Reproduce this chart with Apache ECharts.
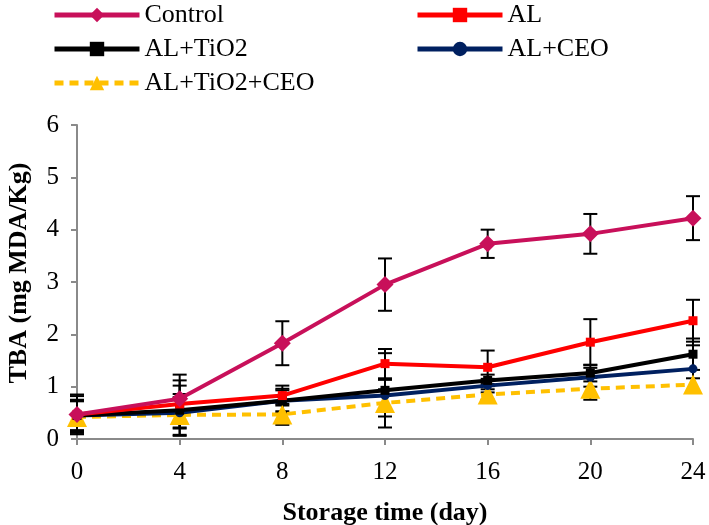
<!DOCTYPE html>
<html><head><meta charset="utf-8">
<script src="https://cdn.jsdelivr.net/npm/echarts@6/dist/echarts.min.js"></script>
<style>html,body{margin:0;padding:0;background:#fff}#c{width:709px;height:525px}</style>
</head><body><div id="c"></div>
<script>
var days = [0, 4, 8, 12, 16, 20, 24];
var yTicks = [0, 1, 2, 3, 4, 5, 6];
var seriesNames = ['Control', 'AL', 'AL+TiO2', 'AL+CEO', 'AL+TiO2+CEO'];
var control = [0.47, 0.77, 1.83, 2.95, 3.73, 3.92, 4.22];
var controlErr = [0.38, 0.46, 0.42, 0.5, 0.27, 0.38, 0.42];
var al = [0.47, 0.67, 0.83, 1.44, 1.37, 1.85, 2.26];
var alErr = [0.35, 0.45, 0.19, 0.28, 0.32, 0.44, 0.4];
var alTiO2 = [0.45, 0.55, 0.73, 0.93, 1.12, 1.26, 1.62];
var alTiO2Err = [0.3, 0.47, 0.23, 0.71, 0.11, 0.16, 0.3];
var alCeo = [0.45, 0.5, 0.73, 0.83, 1.02, 1.18, 1.34];
var alCeoErr = [0.28, 0.3, 0.2, 0.3, 0.13, 0.18, 0.45];
var alTiO2Ceo = [0.42, 0.46, 0.47, 0.69, 0.85, 0.96, 1.04];
var alTiO2CeoErr = [0.3, 0.4, 0.2, 0.26, 0.1, 0.21, 0.12];

var F = 'Liberation Serif, Times New Roman, serif';
var chart = echarts.init(document.getElementById('c'));

function pairs(v){ return days.map(function(d,i){ return [d, v[i]]; }); }
function errSeries(v, e){
  return {
    type: 'custom', silent: true, z: 1,
    data: days.map(function(d,i){ return [d, v[i]-e[i], v[i]+e[i]]; }),
    renderItem: function(params, api){
      var lo = api.coord([api.value(0), api.value(1)]);
      var hi = api.coord([api.value(0), api.value(2)]);
      var w = 7;
      var st = {stroke:'#000', lineWidth:2};
      return {type:'group', children:[
        {type:'line', shape:{x1:lo[0],y1:lo[1],x2:hi[0],y2:hi[1]}, style:st},
        {type:'line', shape:{x1:lo[0]-w,y1:lo[1],x2:lo[0]+w,y2:lo[1]}, style:st},
        {type:'line', shape:{x1:hi[0]-w,y1:hi[1],x2:hi[0]+w,y2:hi[1]}, style:st}
      ]};
    }
  };
}
function lineSeries(name, v, color, symbol, size, dashed){
  return {
    name: name, type: 'line', z: 3, data: pairs(v),
    symbol: symbol, symbolSize: size, showSymbol: true,
    lineStyle: {color: color, width: 4, type: dashed ? [9, 6] : 'solid'},
    itemStyle: {color: color},
    emphasis: {disabled: true}
  };
}
var legendCommon = {
  orient: 'vertical', top: 2, padding: 0, itemWidth: 85, itemHeight: 18, itemGap: 8,
  lineStyle: {width: 5, inactiveWidth: 5},
  textStyle: {fontFamily: F, fontSize: 26, color: '#000', lineHeight: 20, padding: [0,0,0,0]}
};

chart.setOption({
  animation: false,
  grid: {left: 77, right: 16, top: 125, bottom: 86, outerBoundsMode: 'none', containLabel: false},
  legend: [
    Object.assign({left: 52, data: ['Control', 'AL+TiO2', 'AL+TiO2+CEO']}, legendCommon),
    Object.assign({left: 415, data: ['AL', 'AL+CEO']}, legendCommon)
  ],
  xAxis: {
    type: 'value', min: 0, max: 24, interval: 4,
    name: 'Storage time (day)', nameLocation: 'middle', nameGap: 61,
    nameTextStyle: {fontFamily: F, fontSize: 26, fontWeight: 'bold', color: '#000'},
    axisLine: {lineStyle: {color: '#8a8a8a', width: 2}},
    axisTick: {show: true, length: 6, lineStyle: {color: '#8a8a8a', width: 2}},
    splitLine: {show: false},
    axisLabel: {fontFamily: F, fontSize: 25, color: '#000', margin: 21,
      formatter: function(v){ return days.indexOf(v) >= 0 ? String(v) : ''; }}
  },
  yAxis: {
    type: 'value', min: 0, max: 6, interval: 1,
    name: 'TBA (mg MDA/Kg)', nameLocation: 'middle', nameGap: 45, nameRotate: 90,
    nameTextStyle: {fontFamily: F, fontSize: 26, fontWeight: 'bold', color: '#000', padding:[0,0,0,18]},
    axisLine: {show: true, lineStyle: {color: '#8a8a8a', width: 2}},
    axisTick: {show: true, length: 6, lineStyle: {color: '#8a8a8a', width: 2}},
    splitLine: {show: false},
    axisLabel: {fontFamily: F, fontSize: 25, color: '#000', margin: 18,
      formatter: function(v){ return yTicks.indexOf(v) >= 0 ? String(v) : ''; }}
  },
  series: [
    errSeries(control, controlErr),
    errSeries(al, alErr),
    errSeries(alTiO2, alTiO2Err),
    errSeries(alCeo, alCeoErr),
    errSeries(alTiO2Ceo, alTiO2CeoErr),
    lineSeries(seriesNames[4], alTiO2Ceo, '#FFC000', 'triangle', 20, true),
    lineSeries(seriesNames[3], alCeo, '#002060', 'circle', 9, false),
    lineSeries(seriesNames[2], alTiO2, '#000000', 'rect', 9, false),
    lineSeries(seriesNames[1], al, '#FF0000', 'rect', 9, false),
    lineSeries(seriesNames[0], control, '#C8105A', 'diamond', 17, false)
  ]
});
</script></body></html>
